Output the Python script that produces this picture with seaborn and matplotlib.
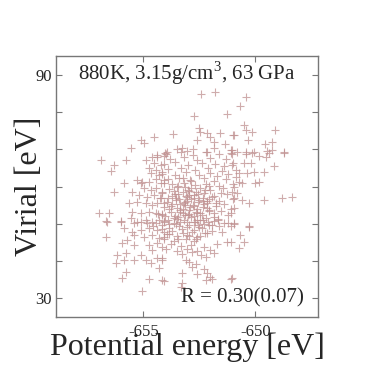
import matplotlib
matplotlib.use("Agg")
import matplotlib.pyplot as plt
import seaborn as sns
import pandas as pd

# potential energy [eV] and virial [eV], one pair per marker
energy = [
    # left middle
    -656.91, -656.31, -656.46, -655.79, -654.90, -654.60, -654.38, -654.08, -654.53, -654.23,
    -654.75, -654.45, -654.15, -654.67, -654.30, -655.87, -655.27, -655.05, -655.12, -654.75,
    -654.45, -654.23, -654.08, -656.31, -655.49, -654.97, -654.67, -654.45, -654.15, -655.20,
    -654.82, -654.53, -654.23, -655.64, -655.27, -654.90, -654.60, -654.38, -654.08, -656.98,
    -656.53, -656.68, -656.01, -655.49, -655.12, -654.75, -654.45, -654.15, -655.57, -655.27,
    -654.90, -654.60, -654.30, -654.08,
    # centre
    -654.00, -653.30, -652.80, -652.20, -651.60, -651.10, -653.80, -653.20, -652.60, -652.00,
    -651.30, -654.10, -653.60, -653.00, -652.40, -651.80, -651.40, -651.00, -653.90, -653.30,
    -652.70, -652.10, -651.50, -654.15, -653.60, -653.10, -652.50, -652.00, -651.70, -651.20,
    -653.90, -653.40, -652.90, -652.30, -651.85, -651.30, -654.10, -653.70, -653.20, -652.70,
    -652.20, -651.60, -651.00, -653.85, -653.50, -653.00, -652.45, -652.00, -651.45, -654.15,
    -653.60, -653.25, -652.75, -652.30, -651.85, -651.25, -653.90, -653.40, -653.05, -652.50,
    -652.05, -651.60, -651.00, -654.10, -653.70, -653.20, -652.80, -652.30, -651.75, -651.40,
    -653.85, -653.50, -652.95, -652.60, -652.05, -651.55, -651.10, -654.15, -653.60, -653.25,
    -652.75, -652.40, -651.85, -651.20, -653.90, -653.50, -653.05, -652.60, -652.10, -651.65,
    -651.20, -653.10, -652.90, -652.60, -653.35, -652.35, -652.85, -653.15, -652.55, -652.20,
    -653.45, -652.95, -652.15, -653.70, -652.70, -653.00,
    # centre, densest part
    -653.55, -653.15, -652.75, -652.35, -651.95, -653.35, -652.95, -652.55, -652.15, -653.75,
    -653.45, -653.05, -652.65, -652.25, -651.85, -653.65, -653.25, -652.85, -652.45, -652.05,
    -653.95, -653.55, -653.15, -652.75, -652.35, -653.85, -653.35, -652.95, -652.55, -652.15,
    -653.65, -653.25, -652.85, -652.45, -651.75, -654.05, -653.45, -653.05, -652.65, -652.25,
    -653.75, -653.35, -652.95, -652.35, -651.95, -653.55, -653.15, -652.75, -652.05, -651.65,
    -654.35, -654.55, -654.25, -653.85, -653.45, -652.85, -652.45, -651.55, -653.25, -652.65,
    # right middle
    -651.03, -650.81, -650.43, -650.14, -649.84, -649.54, -649.39, -648.72, -650.51, -651.03,
    -650.21, -649.17, -649.62, -650.88, -650.73, -650.36, -650.06, -649.99, -650.88, -650.73,
    -650.58, -650.95, -649.84, -651.03, -650.81, -650.95, -650.58, -650.28, -649.62, -648.80,
    -648.35, -650.95, -651.10, -650.95, -650.28,
    # lower left
    -656.61, -656.01, -655.42, -655.12, -654.82, -654.45, -654.15, -655.87, -655.49, -655.12,
    -654.75, -654.38, -654.08, -656.68, -655.42, -654.97, -654.60, -654.30, -654.08, -655.94,
    -655.72, -655.42, -654.75, -654.38, -654.15, -654.60, -656.16, -655.79, -655.12, -654.90,
    -654.67, -654.38, -654.15, -656.24, -655.87, -655.42, -654.30, -655.79, -655.94, -654.75,
    -654.15, -655.05,
    # lower centre
    -654.08, -653.63, -653.19, -652.74, -652.29, -651.85, -651.40, -653.86, -653.41, -652.96,
    -652.52, -652.07, -651.62, -651.10, -654.15, -653.71, -653.26, -652.81, -652.37, -651.92,
    -651.48, -653.93, -653.48, -653.04, -652.59, -652.15, -654.08, -653.63, -653.11, -652.74,
    -651.25, -653.78, -653.34, -652.89, -652.29, -651.70, -654.00, -653.48, -653.04, -652.59,
    -652.00, -653.26, -652.81, -652.44, -651.85, -654.15, -653.11, -652.22, -652.96, -652.67,
    -652.81, -652.29, -653.26, -652.59, -652.15, -652.00, -651.10, -654.08, -652.22, -651.92,
    -653.26, -653.34,
    # lower right
    -650.95, -650.28, -650.66, -650.51, -650.73, -651.10, -651.03,
    # top
    -655.57, -655.12, -654.97, -654.53, -654.38, -654.05,
    -652.41, -651.82, -652.74, -651.25, -653.66, -652.52, -652.47, -652.17, -652.00, -651.58,
    -650.98, -652.59, -651.85, -651.33, -653.93, -653.48, -653.26, -653.04, -652.77, -652.14,
    -651.85, -651.07,
    -650.43, -650.69, -650.51, -650.43, -650.14, -650.95, -649.12, -650.33, -649.57, -649.24,
    -649.24, -648.72, -651.03, -650.43, -650.06, -649.47,
]

virial = [
    # left middle
    67.15, 65.81, 64.28, 67.15, 67.15, 67.87, 68.05, 68.23, 66.26, 65.81,
    64.91, 64.46, 64.02, 63.57, 63.12, 60.88, 61.78, 61.33, 60.88, 61.33,
    61.96, 60.88, 61.78, 58.64, 58.64, 59.54, 59.09, 59.54, 58.64, 57.74,
    57.29, 57.74, 56.85, 55.50, 55.95, 55.50, 55.06, 55.50, 54.61, 53.00,
    52.82, 50.75, 50.84, 53.26, 52.82, 53.26, 52.82, 52.37, 51.47, 50.57,
    51.02, 50.57, 51.02, 50.57,
    # centre
    68.9, 69.2, 68.6, 69.4, 68.8, 69.0, 67.5, 67.9, 67.2, 67.7,
    67.4, 66.2, 66.5, 65.8, 66.3, 66.0, 65.6, 66.4, 64.8, 65.1,
    64.5, 64.9, 64.3, 63.5, 63.2, 63.8, 63.0, 63.6, 62.9, 63.4,
    62.1, 62.4, 61.8, 62.2, 61.6, 62.0, 60.9, 60.6, 61.1, 60.4,
    60.8, 60.3, 60.7, 59.4, 59.8, 59.1, 59.6, 59.0, 59.5, 58.3,
    58.0, 58.5, 57.8, 58.2, 57.6, 58.1, 56.9, 56.6, 57.1, 56.4,
    56.8, 56.2, 56.7, 55.5, 55.2, 55.7, 55.0, 55.4, 54.9, 55.3,
    53.9, 54.3, 53.6, 54.1, 53.8, 53.4, 54.0, 52.6, 52.2, 52.8,
    52.0, 52.5, 51.9, 52.4, 50.9, 51.3, 50.6, 51.1, 50.4, 50.9,
    50.2, 57.4, 54.6, 52.9, 53.2, 57.0, 59.5, 55.8, 55.9, 51.6,
    51.8, 58.7, 56.0, 57.5, 50.5, 52.3,
    # centre, densest part
    56.3, 55.1, 56.9, 54.4, 57.3, 53.7, 52.6, 58.1, 55.6, 54.9,
    57.9, 56.1, 53.3, 59.2, 52.9, 51.6, 54.0, 56.6, 50.9, 53.5,
    55.8, 49.9, 52.4, 54.8, 56.2, 48.8, 50.5, 57.7, 49.6, 54.3,
    58.9, 47.6, 51.7, 53.0, 55.7, 52.1, 60.3, 49.2, 58.6, 47.4,
    53.1, 55.4, 46.8, 51.0, 49.7, 57.0, 59.8, 48.4, 60.1, 51.3,
    52.7, 49.4, 56.9, 47.3, 45.9, 61.5, 46.6, 58.3, 62.4, 45.8,
    # right middle
    68.76, 69.39, 68.76, 68.94, 68.23, 68.05, 69.12, 68.94, 66.26, 65.81,
    66.43, 65.54, 64.02, 64.46, 63.57, 63.75, 64.02, 60.88, 62.67, 61.33,
    60.88, 59.98, 61.33, 58.64, 58.19, 56.85, 56.40, 55.50, 56.40, 56.85,
    57.29, 54.16, 52.82, 50.13, 49.41,
    # lower left
    50.57, 50.57, 50.12, 50.57, 50.12, 50.30, 49.68, 48.78, 47.88, 48.33,
    48.78, 48.33, 47.88, 46.54, 46.99, 46.54, 46.99, 46.09, 46.54, 44.75,
    45.64, 44.30, 44.30, 44.75, 43.85, 42.96, 41.61, 42.06, 41.61, 40.27,
    39.37, 40.72, 40.27, 39.37, 40.27, 40.27, 38.03, 37.13, 35.34, 35.07,
    34.89, 32.02,
    # lower centre
    50.8, 50.2, 50.9, 50.4, 50.0, 50.7, 50.3, 49.9, 49.3, 49.6,
    49.1, 49.8, 49.4, 49.5, 48.7, 48.0, 48.5, 47.9, 48.8, 48.2,
    47.7, 47.3, 46.6, 47.1, 46.5, 47.4, 45.9, 45.3, 46.0, 45.5,
    45.1, 44.6, 44.0, 44.4, 43.8, 44.7, 43.2, 42.6, 43.3, 42.7,
    43.0, 41.8, 42.3, 41.5, 42.2, 40.9, 40.4, 41.1, 39.6, 39.1,
    38.3, 37.8, 36.9, 36.4, 36.7, 35.6, 35.2, 34.7, 35.0, 35.1,
    34.0, 33.1,
    # lower right
    49.94, 49.23, 46.99, 45.20, 43.40, 45.20, 35.34,
    # top
    70.47, 72.53, 71.81, 73.43, 68.50, 68.95,
    84.90, 85.50, 79.07, 79.52, 74.14, 75.67, 74.77, 74.32, 73.25, 74.50,
    73.87, 72.53, 72.08, 71.46, 69.39, 70.02, 70.29, 69.66, 70.02, 69.39,
    70.29, 69.84,
    84.18, 81.67, 76.56, 75.20, 74.77, 73.87, 75.22, 72.53, 71.46, 72.08,
    69.84, 69.39, 69.84, 69.39, 69.39, 69.66,
]

x_ticks = [-655, -650]
x_tick_labels = ["-655", "-650"]
y_ticks = [30, 40, 50, 60, 70, 80, 90]
y_tick_labels = ["30", "", "", "", "", "", "90"]

df = pd.DataFrame({"energy": energy, "virial": virial})

sns.set_style("ticks")
plt.rcParams["font.family"] = ["Liberation Serif", "DejaVu Serif"]
plt.rcParams["axes.unicode_minus"] = False
plt.rcParams["mathtext.fontset"] = "custom"
plt.rcParams["mathtext.rm"] = "Liberation Serif"

fig = plt.figure(figsize=(3.74, 3.74), dpi=100)
ax = fig.add_axes([0.150, 0.152, 0.700, 0.699])

sns.scatterplot(data=df, x="energy", y="virial", marker="+", s=30,
                color="#c09090", alpha=0.75, linewidth=0.8, ax=ax)

ax.set_xlim(-658.9, -647.2)
ax.set_ylim(24.9, 95.2)
ax.set_xticks(x_ticks)
ax.set_xticklabels(x_tick_labels)
ax.set_yticks(y_ticks)
ax.set_yticklabels(y_tick_labels)

ax.tick_params(direction="in", length=4.5, width=0.8, color="#777777",
               labelsize=12, top=True, right=True)
ax.tick_params(axis="x", pad=5)
ax.tick_params(axis="y", pad=3)
for sp in ax.spines.values():
    sp.set_color("#777777")
    sp.set_linewidth(1.0)

ax.set_xlabel("Potential energy [eV]", fontsize=23)
ax.set_ylabel("Virial [eV]", fontsize=23)
ax.xaxis.set_label_coords(0.5, -0.058)
ax.yaxis.set_label_coords(-0.048, 0.5)

ax.text(0.5, 0.935, r"880K, 3.15g/cm$^{\mathrm{3}}$, 63 GPa", transform=ax.transAxes,
        ha="center", va="center", fontsize=15)
ax.text(0.945, 0.075, "R = 0.30(0.07)", transform=ax.transAxes,
        ha="right", va="center", fontsize=15)

fig.savefig("out.png", dpi=100)
